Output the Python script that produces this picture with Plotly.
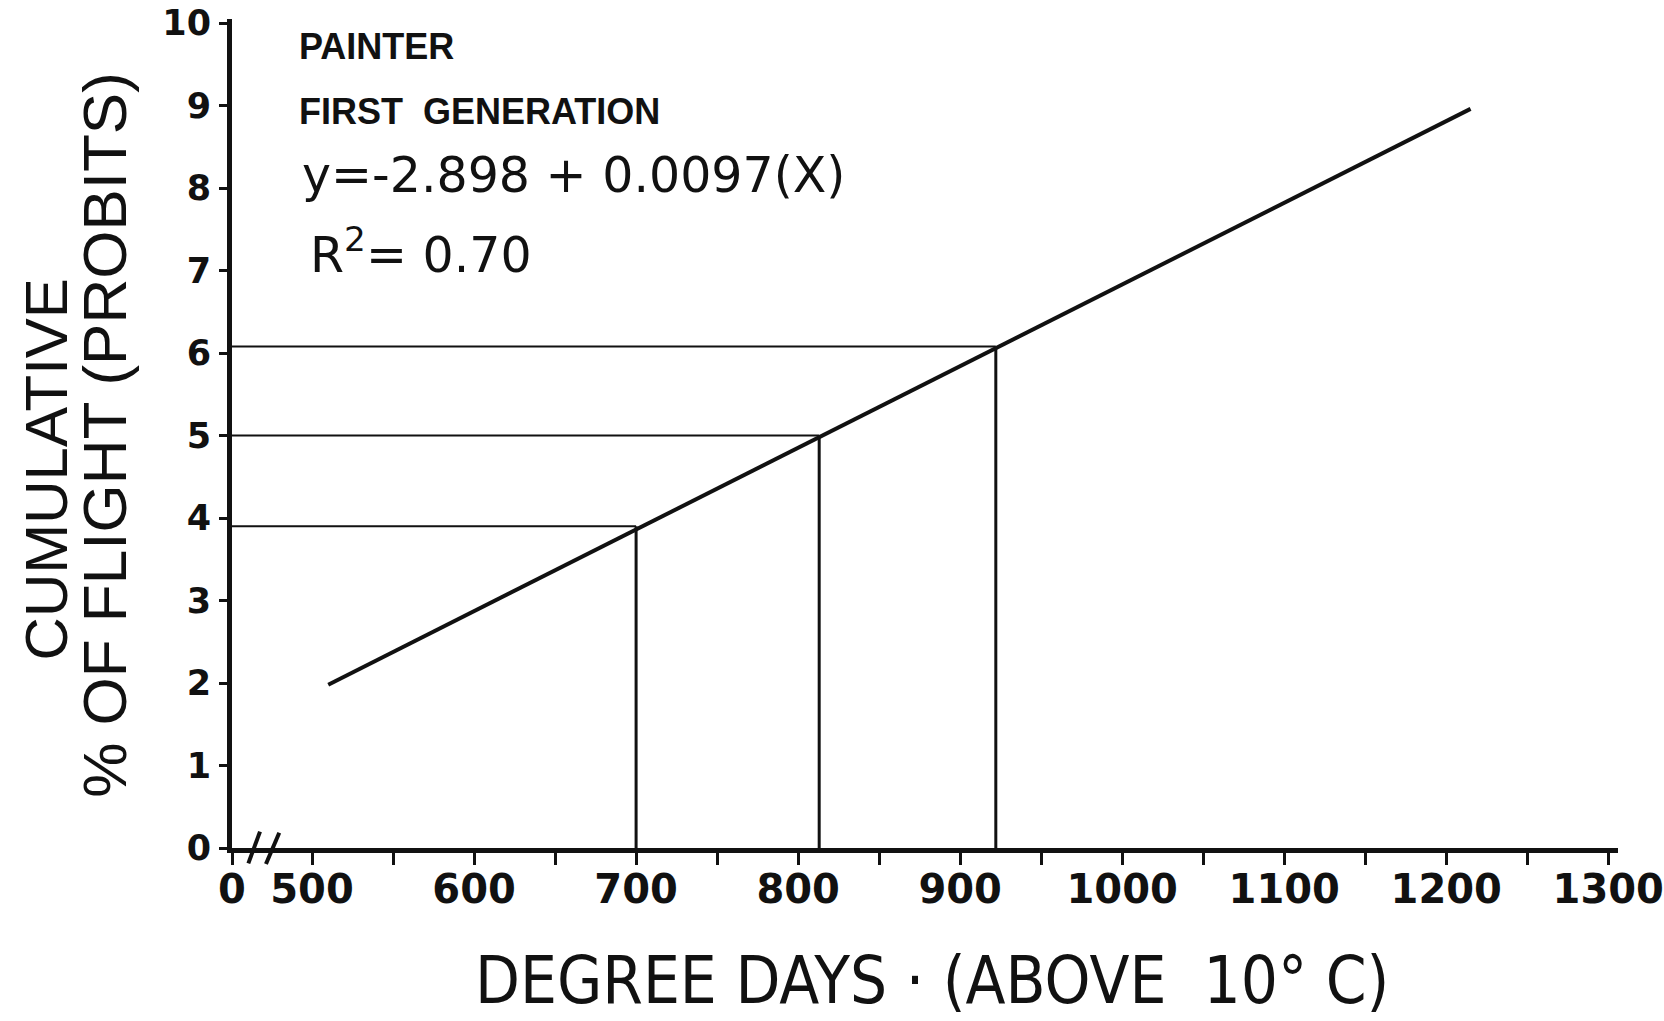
import plotly.graph_objects as go

# ---- data ----
fit_x = [510, 1215]          # degree days, ends of the regression line
fit_y = [1.98, 8.96]         # probits
drop_x = [700, 813, 922]     # degree days where guide lines meet the line
drop_y = [3.9, 5.0, 6.08]    # probit levels of the guide lines
x_major = [500, 600, 700, 800, 900, 1000, 1100, 1200, 1300]
x_minor = [550, 650, 750, 850, 950, 1050, 1150, 1250]
y_ticks = [0, 1, 2, 3, 4, 5, 6, 7, 8, 9, 10]
x_origin_label = "0"

X0 = 450.6  # position on the broken axis where "0" sits
INK = "#111111"

fig = go.Figure()

# regression line
fig.add_trace(go.Scatter(x=fit_x, y=fit_y, mode="lines",
                         line=dict(color=INK, width=4), hoverinfo="skip"))

# guide lines (horizontal to y axis, vertical to x axis)
for dx, dy in zip(drop_x, drop_y):
    fig.add_trace(go.Scatter(x=[X0, dx], y=[dy, dy], mode="lines",
                             line=dict(color=INK, width=2), hoverinfo="skip"))
    fig.add_trace(go.Scatter(x=[dx, dx], y=[0, dy], mode="lines",
                             line=dict(color=INK, width=3), hoverinfo="skip"))

tickvals = [X0] + x_major + x_minor
ticktext = [x_origin_label] + [str(v) for v in x_major] + [""] * len(x_minor)

fig.update_layout(
    width=1664, height=1021,
    margin=dict(l=232, r=46, t=19, b=173, autoexpand=False),
    paper_bgcolor="white", plot_bgcolor="white",
    showlegend=False,
    xaxis=dict(range=[X0, 1306], tickvals=tickvals, ticktext=ticktext,
               automargin=False,
               showgrid=False, zeroline=False, showline=True,
               linecolor=INK, linewidth=5, ticks="outside", ticklen=12,
               tickwidth=3, tickcolor=INK, ticklabelstandoff=-10,
               tickfont=dict(family="DejaVu Sans", size=40, color=INK, weight="bold")),
    yaxis=dict(range=[0, 10.05], tickvals=y_ticks,
               automargin=False,
               showgrid=False, zeroline=False, showline=True,
               linecolor=INK, linewidth=5, ticks="outside", ticklen=8,
               tickwidth=3, tickcolor=INK, ticklabelstandoff=1,
               tickfont=dict(family="DejaVu Sans", size=35, color=INK, weight="bold")),
)

# axis break marks "//"
for (x0, y0, x1, y1) in [(0.0118, -0.0185, 0.0202, 0.0197),
                         (0.0245, -0.0193, 0.0341, 0.0185)]:
    fig.add_shape(type="line", xref="paper", yref="paper", x0=x0, y0=y0, x1=x1, y1=y1,
                  line=dict(color=INK, width=4), layer="above")

ann_font = dict(family="Liberation Sans", size=36, color=INK, weight="bold")
eq_font = dict(family="DejaVu Sans", size=49, color=INK)
fig.add_annotation(text="PAINTER", xref="paper", yref="paper", x=0.0469, y=0.967,
                   xanchor="left", yanchor="middle", showarrow=False, font=ann_font)
fig.add_annotation(text="FIRST  GENERATION", xref="paper", yref="paper", x=0.0469, y=0.889,
                   xanchor="left", yanchor="middle", showarrow=False, font=ann_font)
fig.add_annotation(text="y=-2.898 + 0.0097(X)", xref="paper", yref="paper", x=0.049, y=0.811,
                   xanchor="left", yanchor="middle", showarrow=False, font=eq_font)
fig.add_annotation(text="R<sup>2</sup>= 0.70", xref="paper", yref="paper", x=0.055, y=0.72,
                   xanchor="left", yanchor="middle", showarrow=False, font=eq_font)

# axis titles
fig.add_annotation(text="CUMULATIVE", xref="paper", yref="paper", x=-0.134, y=0.457,
                   xanchor="center", yanchor="middle", textangle=-90, showarrow=False,
                   font=dict(family="Liberation Sans", size=60, color=INK))
fig.add_annotation(text="% OF FLIGHT (PROBITS)", xref="paper", yref="paper", x=-0.092, y=0.499,
                   xanchor="center", yanchor="middle", textangle=-90, showarrow=False,
                   font=dict(family="Liberation Sans", size=62, color=INK))
fig.add_annotation(text="DEGREE DAYS · (ABOVE  10° C)", xref="paper", yref="paper",
                   x=0.505, y=-0.1604, xanchor="center", yanchor="middle", showarrow=False,
                   font=dict(family="Liberation Sans Narrow, DejaVu Sans Condensed, sans-serif",
                             size=65, color=INK))

fig.write_html("out.html")
